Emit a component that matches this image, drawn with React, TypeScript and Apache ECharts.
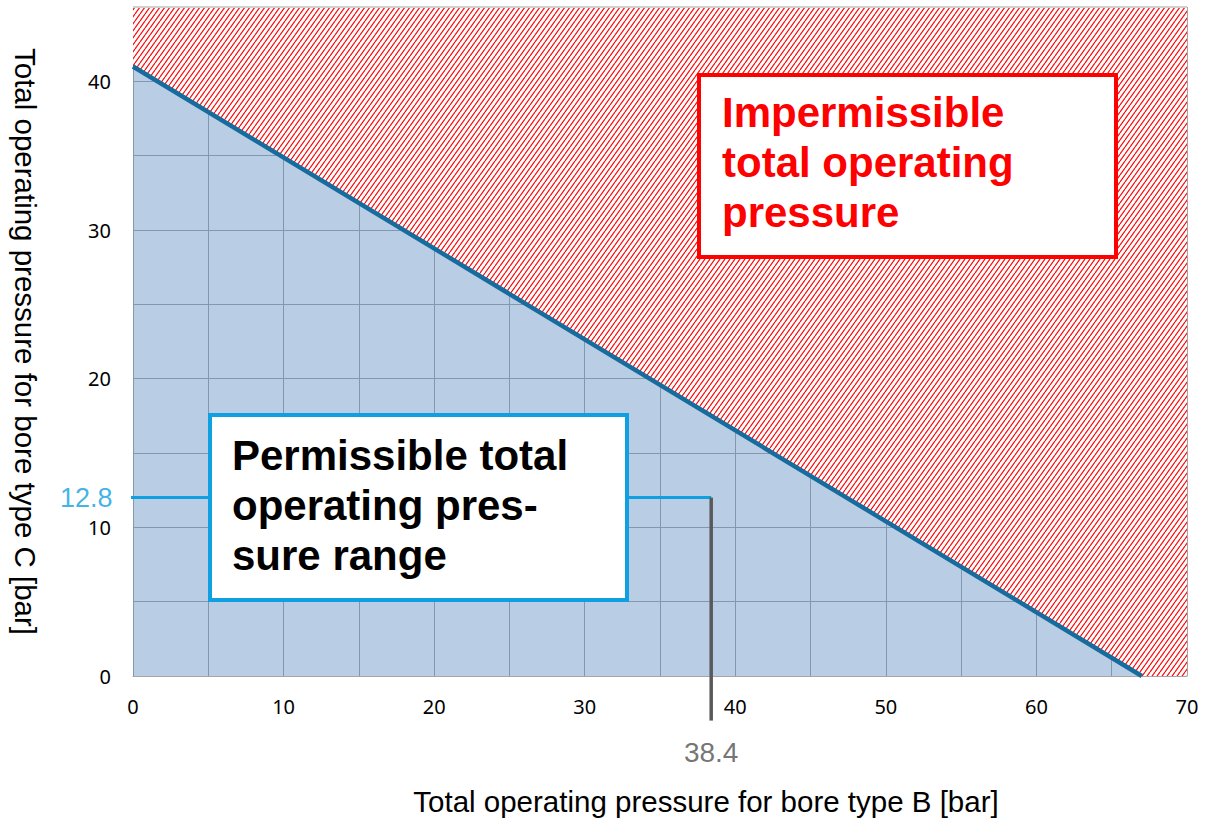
import React, { useEffect, useRef } from "react";
import * as echarts from "echarts";

// ---- data ----
const xMax = 70;
const yMax = 45;
const tickStep = 10;
const limitLineB = [0, 67];
const limitLineC = [41, 0];
const hatchB = [0, 67, 70];
const hatchC = [41, 0, 0];
const exampleB = 38.4;
const exampleC = 12; // where the leader is drawn in the reference
const exampleCLabel = "12.8";
const exampleBLabel = "38.4";
const leaderStartB = -0.8;
const leaderEndC = -3;
const xAxisTitle = "Total operating pressure for bore type B [bar]";
const yAxisTitle = "Total operating pressure for bore type C [bar]";
const permissibleText = "Permissible total\noperating pres-\nsure range";
const impermissibleText = "Impermissible\ntotal operating\npressure";

function makeHatch() {
  const w = 5;
  const h = 7;
  const c = document.createElement("canvas");
  c.width = w;
  c.height = h;
  const ctx = c.getContext("2d")!;
  ctx.fillStyle = "#ffffff";
  ctx.fillRect(0, 0, w, h);
  ctx.strokeStyle = "#ff0000";
  ctx.lineWidth = 1.15;
  for (const dx of [-w, 0, w]) {
    ctx.beginPath();
    ctx.moveTo(dx, h);
    ctx.lineTo(dx + w, 0);
    ctx.stroke();
  }
  return { canvas: c, w, h };
}

export default function App() {
  const ref = useRef<HTMLDivElement>(null);
  useEffect(() => {
    if (!ref.current) return;
    const chart = echarts.init(ref.current, undefined, { renderer: "svg" });
    const hatch = makeHatch();
    const gridColor = "#a6a6a6";
    const option: any = {
      animation: false,
      backgroundColor: "#ffffff",
      grid: { left: 133, right: 20, top: 7, bottom: 146, containLabel: false },
      xAxis: {
        type: "value",
        min: 0,
        max: xMax,
        interval: tickStep,
        name: xAxisTitle,
        nameLocation: "middle",
        nameGap: 110,
        nameTextStyle: {
          fontFamily: "Liberation Sans",
          fontSize: 29.5,
          color: "#000",
          padding: [0, 0, 0, 92],
        },
        axisLine: { show: true, lineStyle: { color: gridColor, width: 1 } },
        axisTick: { show: false },
        axisLabel: { fontFamily: "Noto Sans", fontSize: 20, color: "#000", margin: 20 },
        splitLine: { show: true, lineStyle: { color: gridColor, width: 1 } },
        minorTick: { show: false, splitNumber: 2 },
        minorSplitLine: { show: true, lineStyle: { color: gridColor, width: 1 } },
      },
      yAxis: {
        type: "value",
        min: 0,
        max: yMax,
        interval: tickStep,
        name: yAxisTitle,
        nameLocation: "middle",
        nameRotate: -90,
        nameGap: 93,
        nameTextStyle: { fontFamily: "Liberation Sans", fontSize: 29.5, color: "#000" },
        axisLine: { show: true, lineStyle: { color: gridColor, width: 1 } },
        axisTick: { show: false },
        axisLabel: { fontFamily: "Noto Sans", fontSize: 20, color: "#000", margin: 22, showMaxLabel: false },
        splitLine: { show: true, lineStyle: { color: gridColor, width: 1 } },
        minorTick: { show: false, splitNumber: 2 },
        minorSplitLine: { show: true, lineStyle: { color: gridColor, width: 1 } },
      },
      series: [
        {
          type: "line",
          name: "impermissible",
          data: hatchB.map((b, i) => [b, hatchC[i]]),
          symbol: "none",
          lineStyle: { width: 0 },
          areaStyle: {
            origin: "end",
            opacity: 1,
            color: { image: hatch.canvas, repeat: "repeat", imageWidth: hatch.w, imageHeight: hatch.h },
          },
          z: 1,
          markLine: {
            silent: true,
            symbol: "none",
            label: { show: false },
            lineStyle: { color: "#d0d0d0", width: 2, type: "solid" },
            data: [{ yAxis: yMax }],
          },
        },
        {
          type: "line",
          name: "limit",
          data: limitLineB.map((b, i) => [b, limitLineC[i]]),
          symbol: "none",
          lineStyle: { color: "#176c9e", width: 4.5 },
          areaStyle: { origin: "start", color: "rgba(79,129,189,0.4)", opacity: 1 },
          z: 3,
        },
        {
          type: "line",
          name: "leaderC",
          data: [
            [leaderStartB, exampleC],
            [exampleB, exampleC],
          ],
          symbol: "none",
          clip: false,
          lineStyle: { color: "#0ea0e0", width: 3 },
          z: 4,
        },
        {
          type: "line",
          name: "leaderB",
          data: [
            [exampleB, exampleC],
            [exampleB, leaderEndC],
          ],
          symbol: "none",
          clip: false,
          lineStyle: { color: "#595959", width: 3.5 },
          z: 4,
        },
        {
          type: "scatter",
          name: "labels",
          clip: false,
          symbolSize: 1,
          itemStyle: { color: "rgba(0,0,0,0)" },
          z: 5,
          data: [
            {
              value: [leaderStartB, exampleC],
              label: {
                show: true,
                position: "left",
                distance: 8,
                formatter: exampleCLabel,
                fontFamily: "Liberation Sans",
                fontSize: 27,
                color: "#0ea0e0",
              },
            },
            {
              value: [exampleB, leaderEndC],
              label: {
                show: true,
                position: "bottom",
                distance: 17,
                formatter: exampleBLabel,
                fontFamily: "Liberation Sans",
                fontSize: 28,
                color: "#505050",
              },
            },
          ],
        },
      ],
      graphic: [
        {
          type: "rect",
          z: 100,
          shape: { x: 210, y: 415, width: 417, height: 185 },
          style: { fill: "#ffffff", stroke: "#0ea0e0", lineWidth: 4 },
        },
        {
          type: "text",
          z: 101,
          x: 232,
          y: 430,
          style: {
            text: permissibleText,
            fontFamily: "Liberation Sans",
            fontWeight: "bold",
            fontSize: 42,
            lineHeight: 50,
            fill: "#000000",
          },
        },
        {
          type: "rect",
          z: 100,
          shape: { x: 699, y: 75, width: 417, height: 182 },
          style: { fill: "#ffffff", stroke: "#ff0000", lineWidth: 4 },
        },
        {
          type: "text",
          z: 101,
          x: 722,
          y: 87,
          style: {
            text: impermissibleText,
            fontFamily: "Liberation Sans",
            fontWeight: "bold",
            fontSize: 42,
            lineHeight: 50,
            fill: "#ff0000",
          },
        },
      ],
    };
    chart.setOption(option);
    return () => chart.dispose();
  }, []);
  return (
    <div
      ref={ref}
      style={{ position: "fixed", left: 0, top: 0, width: 1207, height: 822, background: "#fff" }}
    />
  );
}
